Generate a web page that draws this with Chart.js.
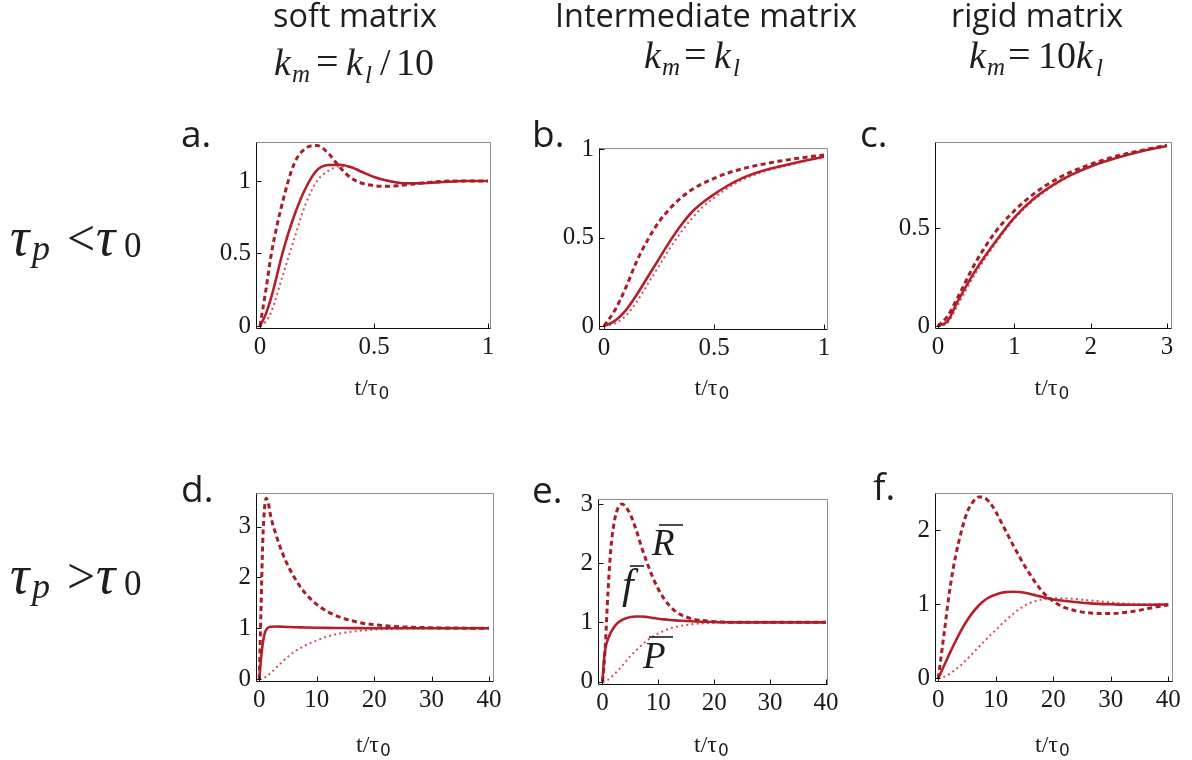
<!DOCTYPE html>
<html>
<head>
<meta charset="utf-8">
<script src="https://cdn.jsdelivr.net/npm/chart.js@4.4.1/dist/chart.umd.min.js"></script>
<style>
  html, body { margin: 0; padding: 0; background: #fff; }
  #page { position: relative; width: 1192px; height: 760px; overflow: hidden; background: #fff; }
  #page canvas { position: absolute; }
  #labels { position: absolute; left: 0; top: 0; pointer-events: none; }
  #labels text { white-space: pre; fill: #1e1e1e; }
</style>
</head>
<body>
<div id="page">
<svg id="labels" width="1192" height="760" xmlns="http://www.w3.org/2000/svg">
  <!-- column headers -->
  <text x="355" y="27" text-anchor="middle" textLength="164" lengthAdjust="spacingAndGlyphs" style="font-family: 'Liberation Sans Narrow', 'Open Sans', sans-serif; font-size: 33px">soft matrix</text>
  <text x="706" y="27" text-anchor="middle" textLength="302" lengthAdjust="spacingAndGlyphs" style="font-family: 'Liberation Sans Narrow', 'Open Sans', sans-serif; font-size: 33px">Intermediate matrix</text>
  <text x="1037" y="27" text-anchor="middle" textLength="172" lengthAdjust="spacingAndGlyphs" style="font-family: 'Liberation Sans Narrow', 'Open Sans', sans-serif; font-size: 33px">rigid matrix</text>
  <!-- formulas -->
  <text x="274" y="75" font-size="38" style="font-family: 'Liberation Serif'; font-style: italic">k</text>
  <text x="292" y="82" font-size="25" style="font-family: 'Liberation Serif'; font-style: italic">m</text>
  <text x="316" y="75" font-size="40" style="font-family: 'Liberation Serif'">=</text>
  <text x="346" y="75" font-size="38" style="font-family: 'Liberation Serif'; font-style: italic">k</text>
  <text x="365" y="83" font-size="25" style="font-family: 'Liberation Serif'; font-style: italic">l</text>
  <text x="380" y="75" font-size="38" style="font-family: 'Liberation Serif'">/</text>
  <text x="396" y="75" font-size="38" style="font-family: 'Liberation Serif'">10</text>
  <text x="644" y="68" font-size="38" style="font-family: 'Liberation Serif'; font-style: italic">k</text>
  <text x="662" y="75" font-size="25" style="font-family: 'Liberation Serif'; font-style: italic">m</text>
  <text x="684" y="68" font-size="40" style="font-family: 'Liberation Serif'">=</text>
  <text x="714" y="68" font-size="38" style="font-family: 'Liberation Serif'; font-style: italic">k</text>
  <text x="733" y="76" font-size="25" style="font-family: 'Liberation Serif'; font-style: italic">l</text>
  <text x="969" y="68" font-size="38" style="font-family: 'Liberation Serif'; font-style: italic">k</text>
  <text x="987" y="75" font-size="25" style="font-family: 'Liberation Serif'; font-style: italic">m</text>
  <text x="1008" y="68" font-size="40" style="font-family: 'Liberation Serif'">=</text>
  <text x="1038" y="68" font-size="38" style="font-family: 'Liberation Serif'">10</text>
  <text x="1076" y="68" font-size="38" style="font-family: 'Liberation Serif'; font-style: italic">k</text>
  <text x="1096" y="76" font-size="25" style="font-family: 'Liberation Serif'; font-style: italic">l</text>
  <!-- row labels -->
  <text x="10" y="255" font-size="54" style="font-family: 'Liberation Serif'; font-style: italic">τ</text>
  <text x="32" y="260" font-size="36" style="font-family: 'Liberation Serif'; font-style: italic">p</text>
  <text x="67" y="255" font-size="50" style="font-family: 'Liberation Serif'">&lt;</text>
  <text x="96" y="255" font-size="54" style="font-family: 'Liberation Serif'; font-style: italic">τ</text>
  <text x="124" y="257" font-size="35" style="font-family: 'Liberation Serif'">0</text>
  <text x="10" y="593" font-size="54" style="font-family: 'Liberation Serif'; font-style: italic">τ</text>
  <text x="32" y="598" font-size="36" style="font-family: 'Liberation Serif'; font-style: italic">p</text>
  <text x="67" y="593" font-size="50" style="font-family: 'Liberation Serif'">&gt;</text>
  <text x="96" y="593" font-size="54" style="font-family: 'Liberation Serif'; font-style: italic">τ</text>
  <text x="124" y="595" font-size="35" style="font-family: 'Liberation Serif'">0</text>
  <!-- panel letters -->
  <text x="181" y="147" style="font-family: 'Open Sans', sans-serif; font-size: 37px">a.</text>
  <text x="532" y="147" style="font-family: 'Open Sans', sans-serif; font-size: 37px">b.</text>
  <text x="860" y="147" style="font-family: 'Open Sans', sans-serif; font-size: 37px">c.</text>
  <text x="181" y="502" style="font-family: 'Open Sans', sans-serif; font-size: 37px">d.</text>
  <text x="532" y="503" style="font-family: 'Open Sans', sans-serif; font-size: 37px">e.</text>
  <text x="873" y="500" style="font-family: 'Open Sans', sans-serif; font-size: 37px">f.</text>
  <!-- curve labels in panel e -->
  <text x="652" y="555" font-size="37" style="font-family: 'Liberation Serif'; font-style: italic">R</text>
  <text x="622" y="598" font-size="42" style="font-family: 'Liberation Serif'; font-style: italic">f</text>
  <text x="643" y="668" font-size="37" style="font-family: 'Liberation Serif'; font-style: italic">P</text>
  <g stroke="#1e1e1e" stroke-width="1.6">
    <line x1="659" y1="525" x2="683" y2="525"/>
    <line x1="630" y1="566" x2="644" y2="566"/>
    <line x1="649" y1="637" x2="673" y2="637"/>
  </g>
</svg>
</div>
<script>
// panel a: soft matrix, tau_p < tau_0
const aT = [0, 0.025, 0.05, 0.1, 0.15, 0.2, 0.25, 0.3, 0.35, 0.4, 0.45, 0.5, 0.55, 0.6, 0.65, 0.7, 0.75, 0.8, 0.85, 0.9, 0.95, 1];
const aR = [0, 0.24, 0.5, 0.86, 1.12, 1.225, 1.245, 1.19, 1.095, 1.02, 0.983, 0.968, 0.964, 0.967, 0.975, 0.985, 0.992, 0.997, 1.0, 1.0, 1.0, 1.0];
const aF = [0, 0.08, 0.2, 0.51, 0.76, 0.95, 1.075, 1.11, 1.112, 1.095, 1.06, 1.028, 1.005, 0.99, 0.984, 0.984, 0.988, 0.993, 0.997, 1.0, 1.0, 1.0];
const aP = [0, 0.03, 0.1, 0.35, 0.6, 0.84, 1.0, 1.07, 1.1, 1.095, 1.065, 1.03, 1.007, 0.99, 0.982, 0.983, 0.988, 0.993, 0.997, 1.0, 1.0, 1.0];

// panel b: intermediate matrix, tau_p < tau_0
const bT = [0, 0.05, 0.1, 0.15, 0.2, 0.25, 0.3, 0.35, 0.4, 0.45, 0.5, 0.55, 0.6, 0.65, 0.7, 0.75, 0.8, 0.85, 0.9, 0.95, 1];
const bR = [0, 0.09, 0.22, 0.37, 0.49, 0.59, 0.665, 0.725, 0.772, 0.806, 0.835, 0.86, 0.88, 0.896, 0.91, 0.922, 0.933, 0.943, 0.952, 0.96, 0.967];
const bF = [0, 0.03, 0.09, 0.18, 0.28, 0.38, 0.48, 0.57, 0.645, 0.7, 0.745, 0.785, 0.82, 0.848, 0.87, 0.888, 0.903, 0.918, 0.932, 0.945, 0.957];
const bP = [0, 0.015, 0.06, 0.14, 0.24, 0.34, 0.44, 0.53, 0.61, 0.675, 0.725, 0.77, 0.808, 0.838, 0.862, 0.882, 0.898, 0.913, 0.928, 0.942, 0.955];

// panel c: rigid matrix, tau_p < tau_0
const cT = [0, 0.125, 0.25, 0.5, 0.75, 1, 1.25, 1.5, 1.75, 2, 2.25, 2.5, 2.75, 3];
const cR = [0, 0.05, 0.14, 0.33, 0.48, 0.59, 0.675, 0.74, 0.79, 0.828, 0.86, 0.885, 0.906, 0.926];
const cF = [0, 0.025, 0.12, 0.29, 0.43, 0.555, 0.65, 0.72, 0.775, 0.817, 0.85, 0.878, 0.902, 0.922];
const cP = [0, 0.015, 0.1, 0.275, 0.42, 0.548, 0.643, 0.715, 0.772, 0.815, 0.85, 0.878, 0.902, 0.922];

// panel d: soft matrix, tau_p > tau_0
const dT = [0, 0.3, 0.6, 0.9, 1.2, 1.5, 2, 3, 4, 5, 6, 7, 8, 10, 12, 14, 16, 18, 20, 22, 25, 30, 35, 40];
const dR = [0, 1.4, 2.7, 3.35, 3.56, 3.5, 3.2, 2.81, 2.49, 2.23, 2.02, 1.84, 1.69, 1.47, 1.32, 1.22, 1.15, 1.1, 1.07, 1.047, 1.026, 1.01, 1.003, 1.0];
const dF = [0, 0.4, 0.7, 0.88, 0.97, 1.01, 1.03, 1.035, 1.03, 1.025, 1.02, 1.018, 1.015, 1.01, 1.007, 1.005, 1.003, 1.002, 1.0, 1.0, 1.0, 1.0, 1.0, 1.0];
const dP = [0, 0.005, 0.015, 0.03, 0.05, 0.07, 0.12, 0.23, 0.34, 0.44, 0.53, 0.6, 0.66, 0.76, 0.84, 0.895, 0.93, 0.955, 0.972, 0.983, 0.992, 0.998, 1.0, 1.0];

// panel e: intermediate matrix, tau_p > tau_0
const eT = [0, 0.25, 0.5, 1, 1.5, 2, 2.5, 3, 3.5, 4, 5, 6, 7, 8, 9, 10, 11, 12, 13, 14, 15, 16, 18, 20, 25, 30, 35, 40];
const eR = [0, 0.25, 0.6, 1.55, 2.25, 2.64, 2.86, 2.97, 3.0, 2.97, 2.82, 2.57, 2.27, 2.0, 1.76, 1.56, 1.4, 1.28, 1.19, 1.13, 1.09, 1.06, 1.03, 1.012, 1.0, 1.0, 1.0, 1.0];
const eF = [0, 0.35, 0.55, 0.72, 0.83, 0.91, 0.97, 1.01, 1.04, 1.06, 1.09, 1.1, 1.1, 1.09, 1.075, 1.062, 1.05, 1.04, 1.034, 1.028, 1.022, 1.018, 1.01, 1.005, 1.0, 1.0, 1.0, 1.0];
const eP = [0, 0.002, 0.008, 0.03, 0.07, 0.11, 0.16, 0.21, 0.265, 0.32, 0.43, 0.525, 0.615, 0.695, 0.76, 0.815, 0.858, 0.893, 0.92, 0.94, 0.956, 0.968, 0.985, 0.993, 1.0, 1.0, 1.0, 1.0];

// panel f: rigid matrix, tau_p > tau_0
const fT = [0, 1, 2, 3, 4, 5, 6, 7, 8, 9, 10, 11, 12, 13, 14, 15, 16, 17, 18, 19, 20, 21, 22, 24, 26, 28, 30, 32, 34, 36, 38, 40];
const fR = [0, 0.6, 1.2, 1.65, 1.98, 2.24, 2.38, 2.45, 2.44, 2.37, 2.25, 2.1, 1.95, 1.8, 1.66, 1.52, 1.4, 1.28, 1.18, 1.1, 1.04, 0.99, 0.955, 0.91, 0.885, 0.875, 0.875, 0.885, 0.905, 0.935, 0.965, 0.99];
const fF = [0, 0.17, 0.34, 0.5, 0.65, 0.78, 0.89, 0.98, 1.05, 1.1, 1.13, 1.155, 1.165, 1.17, 1.165, 1.155, 1.14, 1.12, 1.1, 1.08, 1.065, 1.055, 1.045, 1.03, 1.015, 1.005, 1.0, 0.995, 0.993, 0.993, 0.995, 0.998];
const fP = [0, 0.02, 0.06, 0.12, 0.18, 0.26, 0.34, 0.42, 0.5, 0.58, 0.65, 0.73, 0.8, 0.87, 0.93, 0.98, 1.02, 1.045, 1.065, 1.075, 1.08, 1.08, 1.078, 1.07, 1.055, 1.04, 1.025, 1.012, 1.005, 1.0, 0.998, 0.998];

// tick values
const xTicksUnit = [0, 0.5, 1];
const xTicksThree = [0, 1, 2, 3];
const xTicksForty = [0, 10, 20, 30, 40];
const yTicksUnit = [0, 0.5, 1];
const yTicksHalf = [0, 0.5];
const yTicksThree = [0, 1, 2, 3];
const yTicksTwo = [0, 1, 2];

// layout: plot box [left, top, right, bottom] in page px, and axis ranges (padded like the original frames)
const panels = [
    { t: aT, R: aR, F: aF, P: aP, box: [256, 142, 491, 329], xr: [-0.0175, 1.013], yr: [-0.021, 1.269], xt: xTicksUnit, yt: yTicksUnit },
    { t: bT, R: bR, F: bF, P: bP, box: [599, 148, 828, 330], xr: [-0.0227, 1.018], yr: [-0.0226, 1.007], xt: xTicksUnit, yt: yTicksUnit },
    { t: cT, R: cR, F: cF, P: cP, box: [935, 142, 1172, 329], xr: [-0.039, 3.066], yr: [-0.0154, 0.942], xt: xTicksThree, yt: yTicksHalf },
    { t: dT, R: dR, F: dF, P: dP, box: [256, 493, 494, 682], xr: [-0.575, 40.87], yr: [-0.059, 3.664], xt: xTicksForty, yt: yTicksThree },
    { t: eT, R: eR, F: eF, P: eP, box: [598, 499, 828, 685], xr: [-0.805, 40.36], yr: [-0.059, 3.085], xt: xTicksForty, yt: yTicksThree },
    { t: fT, R: fR, F: fF, P: fP, box: [935, 493, 1173, 682], xr: [-0.574, 40.82], yr: [-0.05, 2.503], xt: xTicksForty, yt: yTicksTwo }
];

const tickFont = { family: '"Liberation Serif", "DejaVu Serif", serif', size: 25 };

// Mathematica-style frame with inward ticks
const framePlugin = {
    id: 'frame',
    afterDraw(chart) {
        const { ctx, chartArea: a, scales } = chart;
        const l = Math.round(a.left) + 0.5, r = Math.round(a.right) - 0.5;
        const t = Math.round(a.top) + 0.5, b = Math.round(a.bottom) - 0.5;
        ctx.save();
        ctx.lineWidth = 1;
        ctx.strokeStyle = '#8c8c8c';
        ctx.beginPath();
        ctx.moveTo(l, t); ctx.lineTo(r, t); ctx.lineTo(r, b);
        ctx.stroke();
        ctx.strokeStyle = '#111';
        ctx.beginPath();
        ctx.moveTo(l, t); ctx.lineTo(l, b); ctx.lineTo(r, b);
        scales.x.ticks.forEach(tk => {
            const px = Math.round(scales.x.getPixelForValue(tk.value)) + 0.5;
            ctx.moveTo(px, b); ctx.lineTo(px, b - 5);
        });
        scales.y.ticks.forEach(tk => {
            const py = Math.round(scales.y.getPixelForValue(tk.value)) + 0.5;
            ctx.moveTo(l, py); ctx.lineTo(l + 5, py);
        });
        ctx.stroke();
        ctx.restore();
    }
};

const page = document.getElementById('page');
const svg = document.getElementById('labels');
const svgNS = 'http://www.w3.org/2000/svg';

// upright text run at a baseline position (axis titles)
function run(x, y, str, size, family) {
    const el = document.createElementNS(svgNS, 'text');
    el.setAttribute('x', x);
    el.setAttribute('y', y);
    el.setAttribute('font-size', size);
    el.setAttribute('style', `font-family: ${family || "'Liberation Serif'"}`);
    el.textContent = str;
    svg.appendChild(el);
}

const pts = (t, v) => t.map((x, i) => ({ x: x, y: v[i] }));

panels.forEach((p, idx) => {
    const [L, T, R, B] = p.box;
    const canvas = document.createElement('canvas');
    canvas.width = (R - L) + 80;
    canvas.height = (B - T) + 55;
    canvas.style.left = (L - 60) + 'px';
    canvas.style.top = (T - 20) + 'px';
    page.insertBefore(canvas, svg);

    new Chart(canvas, {
        type: 'line',
        data: {
            datasets: [
                { label: 'R', data: pts(p.t, p.R), borderColor: '#a91c28', borderWidth: 3, borderDash: [5, 3.5] },
                { label: 'f', data: pts(p.t, p.F), borderColor: '#b3202b', borderWidth: 2.6 },
                { label: 'P', data: pts(p.t, p.P), borderColor: '#d3525d', borderWidth: 2, borderDash: [2, 3.2] }
            ]
        },
        options: {
            responsive: false,
            animation: false,
            devicePixelRatio: 1,
            layout: { padding: { left: 10, top: 20, right: 20, bottom: 5 } },
            elements: { point: { radius: 0 }, line: { cubicInterpolationMode: 'monotone', fill: false } },
            plugins: { legend: { display: false }, tooltip: { enabled: false } },
            scales: {
                x: {
                    type: 'linear', min: p.xr[0], max: p.xr[1],
                    afterBuildTicks: s => { s.ticks = p.xt.map(v => ({ value: v })); },
                    afterFit: s => { s.height = 30; },
                    grid: { display: false, drawTicks: false },
                    border: { display: false },
                    ticks: { font: tickFont, color: '#1a1a1a', padding: 3, maxRotation: 0, autoSkip: false, callback: v => String(v) }
                },
                y: {
                    type: 'linear', min: p.yr[0], max: p.yr[1],
                    afterBuildTicks: s => { s.ticks = p.yt.map(v => ({ value: v })); },
                    afterFit: s => { s.width = 50; },
                    grid: { display: false, drawTicks: false },
                    border: { display: false },
                    ticks: { font: tickFont, color: '#1a1a1a', padding: 5, autoSkip: false, callback: v => String(v) }
                }
            }
        },
        plugins: [framePlugin]
    });

    // axis title t/τ0 under each panel
    const ty = idx < 3 ? 395 : 752;
    const cx = (L + R) / 2;
    run(cx - 19, ty, 't/τ', 24);
    run(cx + 5, ty + 4, '0', 17, "'DejaVu Sans'");
});
</script>
</body>
</html>
